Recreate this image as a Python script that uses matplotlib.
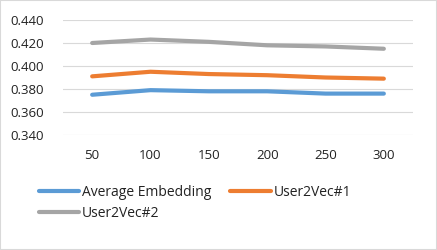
import matplotlib
matplotlib.use("Agg")
import matplotlib.pyplot as plt
from matplotlib.patches import Rectangle

categories = ["50", "100", "150", "200", "250", "300"]
avg_embedding = [0.375, 0.379, 0.378, 0.378, 0.376, 0.376]
user2vec1 = [0.391, 0.395, 0.393, 0.392, 0.390, 0.389]
user2vec2 = [0.420, 0.423, 0.421, 0.418, 0.417, 0.415]
yticks = [0.340, 0.360, 0.380, 0.400, 0.420, 0.440]

plt.rcParams['font.family'] = ['Open Sans', 'DejaVu Sans']

fig = plt.figure(figsize=(4.37, 2.5), dpi=100)
ax = fig.add_axes([63/437, 1-135/250, 350/437, 115/250])

x = list(range(len(categories)))
l1, = ax.plot(x, avg_embedding, color="#5b9bd5", lw=3, solid_capstyle='round', label="Average Embedding")
l2, = ax.plot(x, user2vec1, color="#ed7d31", lw=3, solid_capstyle='round', label="User2Vec#1")
l3, = ax.plot(x, user2vec2, color="#a5a5a5", lw=3, solid_capstyle='round', label="User2Vec#2")

ax.set_xlim(-0.5, len(categories)-0.5)
ax.set_ylim(0.34, 0.44)
ax.set_yticks(yticks)
ax.set_yticklabels([f"{v:.3f}" for v in yticks])
ax.set_xticks(x)
ax.set_xticklabels(categories)
ax.grid(axis='y', color='#d9d9d9', lw=0.8)
ax.set_axisbelow(True)
for s in ax.spines.values():
    s.set_visible(False)
ax.tick_params(length=0, labelsize=9.5, colors='#222222')
ax.tick_params(axis='x', pad=10)
ax.tick_params(axis='y', pad=14)

leg = fig.legend(handles=[l1, l3, l2], loc='upper left', bbox_to_anchor=(33/437, 1-179/250),
                 ncol=2, frameon=False, fontsize=10, handlelength=2.9, handletextpad=0.2,
                 columnspacing=1.4, labelspacing=0.45, borderaxespad=0)
for t in leg.get_texts():
    t.set_color('#222222')

fig.patches.append(Rectangle((0, 0), 1, 1, transform=fig.transFigure, fill=False,
                             edgecolor='#d9d9d9', lw=1.5))
fig.savefig("out.png", dpi=100)
